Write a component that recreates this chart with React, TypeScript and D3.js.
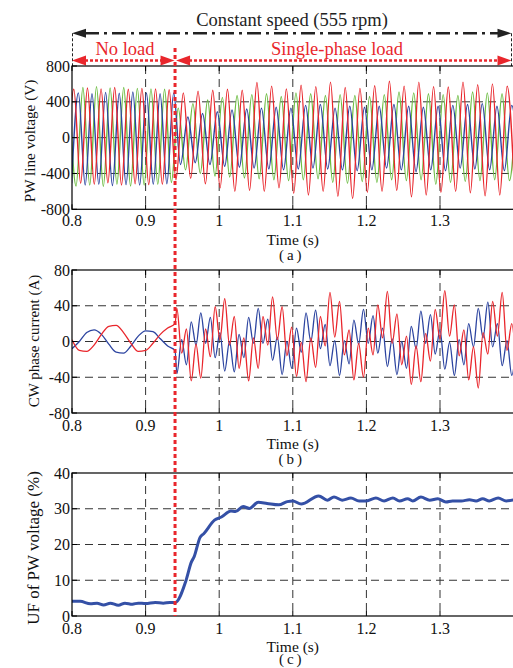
import React from 'react';
import * as d3 from 'd3';

// ---------- shared ----------
const LOAD_T = 0.94;
const xTicks = [0.8, 0.9, 1.0, 1.1, 1.2, 1.3];
const xTickLabels = ['0.8', '0.9', '1', '1.1', '1.2', '1.3'];
const vTicks = [-800, -400, 0, 400, 800];
const iTicks = [-80, -40, 0, 40, 80];
const ufTicks = [0, 10, 20, 30, 40];

// ---------- panel (a): PW line voltages, extrema ----------
const halfPre = 0.00925; // half period before load (s)
const halfPost = 0.01; // half period after load (s)
const redStart = 0.79325;
const greenStart = 0.7963;
const blueStart = 0.79942;
const redFirstSign = -1;
const greenFirstSign = 1;
const blueFirstSign = -1;
const redAmp = [
  520, 540, 510, 555, 520, 545, 505, 560, 530, 540, 515, 550, 525, 545, 520, 535,
  470, 500, 455, 520, 515, 530, 560, 540, 600, 530, 590, 615, 600, 575, 560, 545,
  620, 585, 640, 570, 600, 620, 655, 560, 680, 550, 610, 580, 600, 630, 590, 575,
  660, 620, 640, 570, 610, 565, 600, 620, 615, 590, 650, 600, 640, 575, 600,
];
const greenAmp = [
  520, 540, 560, 530, 570, 545, 555, 520, 560, 540, 550, 530, 545, 520, 540, 500,
  330, 360, 380, 400, 420, 430, 450, 440, 470, 450, 480, 460, 490, 470, 460, 480,
  500, 470, 490, 460, 470, 500, 480, 510, 470, 490, 460, 500, 480, 470, 510, 480,
  500, 470, 490, 520, 480, 500, 470, 490, 510, 480, 500, 470, 490, 480, 500,
];
const blueAmp = [
  510, 500, 530, 490, 520, 505, 535, 495, 525, 510, 530, 500, 520, 490, 515, 500,
  300, 230, 280, 270, 300, 290, 320, 310, 330, 320, 340, 330, 350, 340, 360, 330,
  350, 360, 340, 370, 350, 330, 360, 350, 370, 340, 360, 350, 340, 370, 360, 350,
  380, 340, 360, 350, 370, 360, 340, 370, 350, 380, 360, 350, 370, 360, 350,
];

// ---------- panel (b): CW phase currents ----------
const cwPreTime = [0.8, 0.81, 0.82, 0.83, 0.84, 0.85, 0.86, 0.87, 0.88, 0.89, 0.9, 0.91, 0.92, 0.93, 0.94];
const cwRedPre = [2, -10, -11, -4, 8, 17, 18, 10, -2, -11, -10, -2, 8, 15, 20];
const cwBluePre = [-8, 0, 10, 13, 8, -3, -12, -13, -5, 6, 12, 11, 3, -5, -10];
const cwPostStart = 0.9425;
const cwPostStep = 0.0065;
const cwRedPost = [
  37, -13, 14, -44, -3, -41, 14, -17, 39, 2,
  48, -4, 28, -30, 4, -44, 4, -30, 28, -4,
  50, 2, 39, -16, 16, -39, -1, -45, 4, -29,
  28, -5, 55, 5, 45, -15, 13, -43, -2, -40,
  15, -15, 41, 4, 56, -2, 31, -26, 6, -48,
  -5, -45, 9, -22, 36, 3, 57, 6, 41, -16,
  13, -43, -6, -52, 10, -14, 45, 6, 55, -10,
  20, -37,
];
const cwBluePost = [
  -36, 2, -26, 22, -4, 32, -2, 27, -18, 10,
  -33, 0, -34, 8, -18, 27, -2, 37, -2, 25,
  -21, 5, -37, 0, -30, 15, -12, 32, 0, 35,
  -8, 19, -27, 1, -38, 1, -25, 24, -3, 36,
  -2, 29, -13, 15, -28, 3, -37, 0, -30, 17,
  -8, 34, -2, 30, -14, 13, -31, -1, -38, 2,
  -26, 20, -6, 37, 4, 44, -6, 20, -27, 1,
  -38, 1,
];

// ---------- panel (c): UF of PW voltage ----------
const ufTime = [
  0.8, 0.811, 0.825, 0.834, 0.843, 0.852, 0.863, 0.872, 0.882, 0.89, 0.9, 0.913, 0.924, 0.933, 0.94,
  0.955, 0.962, 0.966, 0.974, 0.979, 0.9936, 1.003, 1.016, 1.022, 1.0325, 1.041, 1.053, 1.065, 1.081,
  1.0925, 1.1, 1.1113, 1.1352, 1.147, 1.156, 1.167, 1.179, 1.19, 1.2, 1.213, 1.224, 1.236, 1.245,
  1.256, 1.263, 1.274, 1.286, 1.297, 1.308, 1.317, 1.329, 1.34, 1.349, 1.358, 1.367, 1.379, 1.39, 1.401,
];
const ufValue = [
  4.1, 4.1, 3.4, 3.6, 3.1, 3.6, 3.0, 3.6, 3.3, 3.6, 3.5, 3.8, 3.6, 3.8, 3.8,
  10, 15, 16.6, 22, 23, 26.8, 27.7, 29.4, 29.2, 30.6, 30.1, 31.8, 31.5, 31.1,
  32, 32.2, 31.3, 33.6, 32.4, 33.3, 32.4, 33, 32.2, 32.2, 33, 32.2, 33, 32.2,
  32.8, 32.2, 33.3, 32.4, 32.8, 31.9, 32.2, 32.2, 32.5, 32.2, 32.8, 32.2, 33, 32.2, 32.5,
];

// ---------- helpers ----------
type Pt = { t: number; v: number };

function buildWave(t0: number, firstSign: number, amps: number[]): Pt[] {
  let t = t0;
  return amps.map((a, k) => {
    const p = { t, v: (k % 2 === 0 ? firstSign : -firstSign) * a };
    t += t < LOAD_T ? halfPre : halfPost;
    return p;
  });
}

function buildCurrent(pre: number[], post: number[]): Pt[] {
  const a = cwPreTime.map((t, i) => ({ t, v: pre[i] }));
  const b = post.map((v, k) => ({ t: cwPostStart + k * cwPostStep, v }));
  return a.concat(b);
}

const FONT = "'Liberation Serif', 'Times New Roman', serif";
const X0 = 72;
const X1 = 513.6;
const x = d3.scaleLinear().domain([0.8, 1.4]).range([X0, X1]);

const RED = '#e9262c';
const GREEN = '#6dbd43';
const BLUE = '#2c44a0';

type PanelProps = {
  id: string;
  top: number;
  bottom: number;
  domain: [number, number];
  yTicks: number[];
  labelBaseline: number;
  letter: string;
  letterBaseline: number;
  yLabel: string;
  yLabelX: number;
  yLabelY: number;
  yLabelSize: number;
  series: { pts: Pt[]; color: string; width: number }[];
};

function Panel(p: PanelProps) {
  const y = d3.scaleLinear().domain(p.domain).range([p.bottom, p.top]);
  const line = d3
    .line<Pt>()
    .x((d) => x(d.t))
    .y((d) => y(d.v))
    .curve(d3.curveMonotoneX);
  const inner = p.yTicks.slice(1, -1);
  const innerX = xTicks.slice(1);
  return (
    <g>
      <defs>
        <clipPath id={'clip-' + p.id}>
          <rect x={X0} y={p.top} width={X1 - X0} height={p.bottom - p.top} />
        </clipPath>
      </defs>
      {innerX.map((t) => (
        <line key={'gx' + t} x1={x(t)} x2={x(t)} y1={p.top} y2={p.bottom} stroke="#333" strokeWidth={1} strokeDasharray="8,5" />
      ))}
      {inner.map((v) => (
        <line key={'gy' + v} x1={X0} x2={X1} y1={y(v)} y2={y(v)} stroke="#333" strokeWidth={1} strokeDasharray="8,5" />
      ))}
      <g clipPath={`url(#clip-${p.id})`}>
        {p.series.map((s, i) => (
          <path key={i} d={line(s.pts) || ''} fill="none" stroke={s.color} strokeWidth={s.width} strokeLinejoin="round" />
        ))}
      </g>
      <rect x={X0} y={p.top} width={X1 - X0} height={p.bottom - p.top} fill="none" stroke="#000" strokeWidth={1.2} />
      {xTicks.map((t) => (
        <g key={'tx' + t}>
          <line x1={x(t)} x2={x(t)} y1={p.bottom} y2={p.bottom - 5} stroke="#000" strokeWidth={1} />
          <line x1={x(t)} x2={x(t)} y1={p.top} y2={p.top + 5} stroke="#000" strokeWidth={1} />
        </g>
      ))}
      {p.yTicks.map((v) => (
        <line key={'ty' + v} x1={X0} x2={X0 + 5} y1={y(v)} y2={y(v)} stroke="#000" strokeWidth={1} />
      ))}
      {xTicks.map((t, i) => (
        <text key={'lx' + t} x={x(t)} y={p.labelBaseline} textAnchor="middle" fontFamily={FONT} fontSize={16} fill="#111">
          {xTickLabels[i]}
        </text>
      ))}
      {p.yTicks.map((v) => (
        <text key={'ly' + v} x={X0 - 2} y={y(v)} dy="0.35em" textAnchor="end" fontFamily={FONT} fontSize={16} fill="#111">
          {String(v)}
        </text>
      ))}
      <text x={x(1.1)} y={p.bottom + 36} textAnchor="middle" fontFamily={FONT} fontSize={15.5} fill="#111">
        Time (s)
      </text>
      <text
        x={x(1.1) - 1}
        y={p.letterBaseline}
        textAnchor="middle"
        fontFamily={FONT}
        fontSize={15}
        letterSpacing={3}
        fill="#111"
      >
        {p.letter}
      </text>
      <text
        transform={`translate(${p.yLabelX},${p.yLabelY}) rotate(-90)`}
        textAnchor="middle"
        fontFamily={FONT}
        fontSize={p.yLabelSize}
        fill="#111"
      >
        {p.yLabel}
      </text>
    </g>
  );
}

export default function App() {
  const redV = buildWave(redStart, redFirstSign, redAmp);
  const greenV = buildWave(greenStart, greenFirstSign, greenAmp);
  const blueV = buildWave(blueStart, blueFirstSign, blueAmp);
  const redI = buildCurrent(cwRedPre, cwRedPost);
  const blueI = buildCurrent(cwBluePre, cwBluePost);
  const uf = ufTime.map((t, i) => ({ t, v: ufValue[i] }));
  const xL = x(0.8);
  const xR = 511.5;
  const xLoad = x(LOAD_T);
  const yBlack = 33.3;
  const yRed = 60.5;
  return (
    <svg width={513} height={668} style={{ position: 'absolute', left: 0, top: 0, background: '#fff' }}>
      <rect width={513} height={668} fill="#fff" />
      <text x={292} y={26} textAnchor="middle" fontFamily={FONT} fontSize={18.5} fill="#222">
        Constant speed (555 rpm)
      </text>
      <line x1={xL + 0.5} x2={xL + 0.5} y1={yBlack} y2={66} stroke="#222" strokeWidth={1} strokeDasharray="3,2" />
      <line x1={xR} x2={xR} y1={yBlack} y2={66} stroke="#222" strokeWidth={1} strokeDasharray="3,2" />
      <line x1={xL + 13} x2={xR - 13} y1={yBlack} y2={yBlack} stroke="#222" strokeWidth={2.6} strokeDasharray="14,5,3,5" />
      <path d={`M${xL},${yBlack} L${xL + 14},${yBlack - 4.5} L${xL + 14},${yBlack + 4.5} Z`} fill="#222" />
      <path d={`M${xR},${yBlack} L${xR - 14},${yBlack - 4.5} L${xR - 14},${yBlack + 4.5} Z`} fill="#222" />

      <text x={125} y={55} textAnchor="middle" fontFamily={FONT} fontSize={18.5} fill={RED}>
        No load
      </text>
      <text x={337} y={55} textAnchor="middle" fontFamily={FONT} fontSize={18.5} fill={RED}>
        Single-phase load
      </text>
      <line x1={xL + 13} x2={xLoad - 13} y1={yRed} y2={yRed} stroke={RED} strokeWidth={2.4} strokeDasharray="3,2" />
      <line x1={xLoad + 14} x2={xR - 13} y1={yRed} y2={yRed} stroke={RED} strokeWidth={2.4} strokeDasharray="3,2" />
      <path d={`M${xL},${yRed} L${xL + 14},${yRed - 5} L${xL + 14},${yRed + 5} Z`} fill={RED} />
      <path d={`M${xLoad - 0.5},${yRed} L${xLoad - 14.5},${yRed - 5} L${xLoad - 14.5},${yRed + 5} Z`} fill={RED} />
      <path d={`M${xLoad + 1},${yRed} L${xLoad + 15},${yRed - 5} L${xLoad + 15},${yRed + 5} Z`} fill={RED} />
      <path d={`M${xR},${yRed} L${xR - 14},${yRed - 5} L${xR - 14},${yRed + 5} Z`} fill={RED} />

      <Panel
        id="a"
        top={66}
        bottom={209.3}
        domain={[-800, 800]}
        yTicks={vTicks}
        labelBaseline={226}
        letter="(a)"
        letterBaseline={260}
        yLabel="PW line voltage (V)"
        yLabelX={35}
        yLabelY={141}
        yLabelSize={15.2}
        series={[
          { pts: greenV, color: GREEN, width: 1.4 },
          { pts: blueV, color: BLUE, width: 1.4 },
          { pts: redV, color: RED, width: 1.4 },
        ]}
      />
      <Panel
        id="b"
        top={270}
        bottom={413}
        domain={[-80, 80]}
        yTicks={iTicks}
        labelBaseline={431}
        letter="(b)"
        letterBaseline={464}
        yLabel="CW phase current (A)"
        yLabelX={39}
        yLabelY={341}
        yLabelSize={15}
        series={[
          { pts: blueI, color: BLUE, width: 1.3 },
          { pts: redI, color: RED, width: 1.3 },
        ]}
      />
      <Panel
        id="c"
        top={473}
        bottom={616}
        domain={[0, 40]}
        yTicks={ufTicks}
        labelBaseline={634}
        letter="(c)"
        letterBaseline={664}
        yLabel="UF of PW voltage (%)"
        yLabelX={39}
        yLabelY={548}
        yLabelSize={17}
        series={[{ pts: uf, color: '#3450a6', width: 3 }]}
      />

      <line x1={xLoad} x2={xLoad} y1={48} y2={616} stroke={RED} strokeWidth={3} strokeDasharray="4,3" />
    </svg>
  );
}
